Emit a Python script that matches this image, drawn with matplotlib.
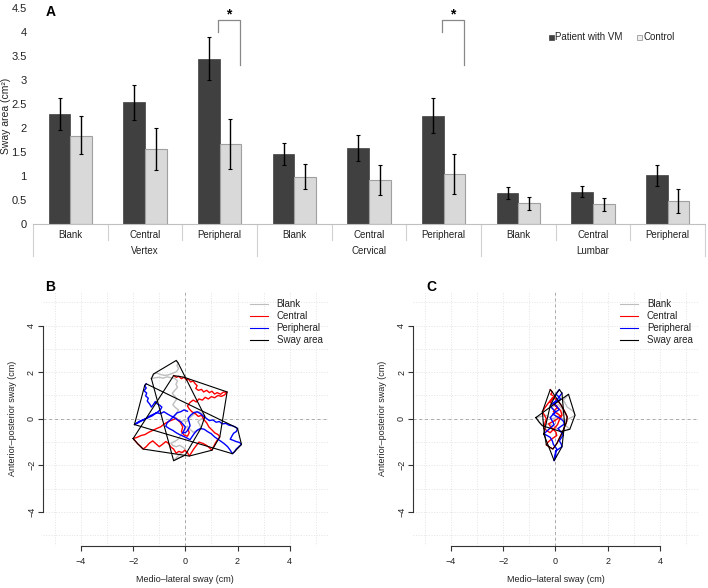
import numpy as np
import matplotlib
matplotlib.use('Agg')
import matplotlib.pyplot as plt
from matplotlib.patches import Rectangle

plt.rcParams['font.family'] = ['Liberation Sans', 'DejaVu Sans']

# ---------------------------------------------------------------
# Panel A: sway area by fixation condition
sub_labels = ['Blank', 'Central', 'Peripheral'] * 3
group_labels = ['Vertex', 'Cervical', 'Lumbar']
patient = [2.28, 2.54, 3.44, 1.46, 1.59, 2.25, 0.65, 0.67, 1.01]
patient_lo = [1.95, 2.17, 2.99, 1.23, 1.32, 1.89, 0.53, 0.56, 0.78]
patient_hi = [2.62, 2.90, 3.89, 1.68, 1.86, 2.62, 0.76, 0.79, 1.23]
control = [1.84, 1.57, 1.67, 0.98, 0.91, 1.04, 0.44, 0.42, 0.48]
control_lo = [1.46, 1.13, 1.15, 0.73, 0.60, 0.62, 0.29, 0.27, 0.22]
control_hi = [2.24, 1.99, 2.19, 1.24, 1.22, 1.46, 0.57, 0.55, 0.73]
yticks_a = [0, 0.5, 1, 1.5, 2, 2.5, 3, 3.5, 4, 4.5]
yticklabels_a = ['0', '0.5', '1', '1.5', '2', '2.5', '3', '3.5', '4', '4.5']
signif_idx = [2, 5]

# ---------------------------------------------------------------
# Panel B / C: centre of pressure traces (cm)
b_blank = [(-0.35, 2.5), (-0.28, 2.4), (-0.32, 2.28), (-0.26, 2.15), (-0.34, 2.02), (-0.5, 1.95),
           (-0.65, 1.88), (-0.8, 1.86), (-0.95, 1.9), (-1.1, 1.96), (-1.22, 1.92), (-1.3, 1.72),
           (-1.15, 1.76), (-1.0, 1.78), (-0.85, 1.74), (-0.7, 1.8), (-0.55, 1.76), (-0.4, 1.72),
           (-0.3, 1.62), (-0.36, 1.48), (-0.3, 1.35), (-0.4, 1.22), (-0.5, 1.1), (-0.42, 0.98),
           (-0.32, 0.86), (-0.4, 0.74), (-0.48, 0.6), (-0.38, 0.48), (-0.26, 0.38), (-0.34, 0.24),
           (-0.42, 0.1), (-0.34, -0.02), (-0.22, -0.14), (-0.08, -0.08), (0.06, -0.12), (0.15, 0.02),
           (0.28, 0.15), (0.4, 0.25), (0.52, 0.3), (0.64, 0.22), (0.75, 0.1), (0.62, 0.0),
           (0.48, -0.12), (0.55, -0.26), (0.6, -0.4), (0.45, -0.5), (0.3, -0.58), (0.18, -0.45),
           (0.08, -0.32), (-0.02, -0.45), (-0.1, -0.6), (-0.2, -0.75), (-0.3, -0.9), (-0.42, -0.98),
           (-0.55, -1.05), (-0.48, -1.15), (-0.35, -1.2), (-0.22, -1.14), (-0.1, -1.22), (0.0, -1.3),
           (-0.08, -1.42), (-0.2, -1.5), (-0.3, -1.62), (-0.45, -1.8), (-0.32, -1.72), (-0.2, -1.65),
           (-0.08, -1.6), (0.0, -1.55)]
b_central = [(-0.45, 1.85), (-0.35, 1.78), (-0.25, 1.82), (-0.15, 1.72), (-0.05, 1.78), (0.05, 1.66),
             (0.12, 1.7), (0.2, 1.58), (0.3, 1.62), (0.38, 1.5), (0.45, 1.42), (0.4, 1.3), (0.5, 1.22),
             (0.62, 1.26), (0.7, 1.15), (0.82, 1.22), (0.92, 1.12), (1.02, 1.18), (1.12, 1.06),
             (1.22, 1.12), (1.35, 1.05), (1.45, 1.14), (1.6, 1.15), (1.5, 1.02), (1.38, 0.96),
             (1.25, 1.0), (1.12, 0.9), (1.0, 0.95), (0.88, 0.85), (0.76, 0.92), (0.65, 0.8),
             (0.52, 0.85), (0.42, 0.72), (0.3, 0.8), (0.18, 0.7), (0.08, 0.55), (0.15, 0.42),
             (0.25, 0.3), (0.38, 0.22), (0.5, 0.1), (0.62, 0.15), (0.72, -0.05), (0.82, -0.18),
             (0.9, -0.35), (1.02, -0.48), (1.12, -0.6), (1.25, -0.68), (1.32, -0.78), (1.22, -0.92),
             (1.15, -1.05), (1.08, -1.2), (1.02, -1.35), (0.9, -1.22), (0.78, -1.12), (0.65, -1.05),
             (0.52, -1.0), (0.42, -1.15), (0.32, -1.3), (0.22, -1.48), (0.15, -1.6), (0.08, -1.45),
             (-0.02, -1.35), (-0.12, -1.45), (-0.25, -1.4), (-0.35, -1.48), (-0.45, -1.3),
             (-0.55, -1.22), (-0.65, -1.05), (-0.75, -0.98), (-0.88, -1.1), (-1.0, -1.2),
             (-1.12, -1.08), (-1.25, -0.95), (-1.38, -1.05), (-1.5, -1.2), (-1.62, -1.3),
             (-1.72, -1.18), (-1.82, -1.08), (-1.92, -0.95), (-2.0, -0.85), (-1.85, -0.8),
             (-1.7, -0.72), (-1.55, -0.68), (-1.4, -0.58), (-1.25, -0.5), (-1.1, -0.42),
             (-0.95, -0.35), (-0.8, -0.22), (-0.65, -0.12), (-0.5, -0.05), (-0.35, 0.02),
             (-0.2, -0.15), (-0.1, -0.35), (-0.15, -0.55), (-0.05, -0.7), (0.08, -0.75),
             (0.15, -0.6), (0.1, -0.45)]
b_peripheral = [(-1.5, 1.5), (-1.56, 1.42), (-1.5, 1.32), (-1.58, 1.2), (-1.48, 1.1), (-1.52, 0.98),
                (-1.42, 0.88), (-1.46, 0.76), (-1.36, 0.62), (-1.3, 0.5), (-1.22, 0.62), (-1.15, 0.74),
                (-1.08, 0.64), (-0.98, 0.58), (-0.9, 0.5), (-0.95, 0.4), (-1.05, 0.3), (-1.15, 0.22),
                (-1.28, 0.12), (-1.4, 0.06), (-1.52, 0.0), (-1.65, -0.06), (-1.78, -0.12),
                (-1.95, -0.25), (-1.82, -0.18), (-1.7, -0.1), (-1.55, -0.02), (-1.4, 0.1),
                (-1.25, 0.18), (-1.1, 0.26), (-0.95, 0.22), (-0.82, 0.3), (-0.68, 0.2), (-0.55, 0.12),
                (-0.42, 0.05), (-0.3, -0.05), (-0.18, -0.12), (-0.08, -0.25), (0.0, -0.35),
                (-0.05, -0.5), (-0.12, -0.62), (0.02, -0.58), (0.1, -0.48), (0.18, -0.3),
                (0.15, -0.15), (0.1, 0.02), (0.2, 0.15), (0.32, 0.26), (0.45, 0.3), (0.58, 0.22),
                (0.68, 0.12), (0.8, 0.02), (0.92, -0.08), (1.05, -0.05), (1.18, -0.15), (1.3, -0.12),
                (1.42, -0.22), (1.55, -0.2), (1.68, -0.28), (1.8, -0.3), (1.92, -0.36), (2.0, -0.42),
                (1.95, -0.55), (1.85, -0.62), (1.78, -0.75), (1.72, -0.88), (1.82, -0.92),
                (1.95, -0.98), (2.08, -1.02), (2.15, -1.1), (2.05, -1.2), (1.95, -1.3), (1.88, -1.42),
                (1.8, -1.5), (1.72, -1.35), (1.62, -1.2), (1.5, -1.08), (1.38, -0.98), (1.25, -0.88),
                (1.12, -0.78), (1.0, -0.65), (0.85, -0.55), (0.72, -0.45), (0.58, -0.42),
                (0.45, -0.5), (0.35, -0.62), (0.25, -0.78), (0.18, -0.9), (0.05, -0.82),
                (-0.08, -0.75), (-0.22, -0.68), (-0.35, -0.6), (-0.48, -0.5), (-0.62, -0.42),
                (-0.75, -0.32), (-0.7, -0.18), (-0.58, -0.05), (-0.45, 0.1), (-0.32, 0.25),
                (-0.18, 0.3), (-0.05, 0.38), (0.08, 0.32)]

c_blank = [(0.5, 1.05), (0.4, 0.92), (0.3, 0.8), (0.38, 0.65), (0.45, 0.5), (0.58, 0.4), (0.7, 0.3),
           (0.75, 0.15), (0.62, 0.06), (0.5, 0.0), (0.4, -0.1), (0.3, -0.2), (0.42, -0.32),
           (0.55, -0.45), (0.38, -0.5), (0.2, -0.55), (0.1, -0.45), (0.0, -0.35), (-0.12, -0.28),
           (-0.25, -0.2), (-0.38, -0.26), (-0.5, -0.3), (-0.62, -0.15), (-0.75, 0.05),
           (-0.55, 0.1), (-0.35, 0.15), (-0.22, 0.05), (-0.1, 0.0), (0.02, 0.06), (0.15, 0.1),
           (0.08, 0.22), (0.0, 0.35), (-0.1, 0.42), (-0.2, 0.5), (-0.05, 0.55), (0.1, 0.6),
           (0.22, 0.48), (0.3, 0.35), (0.25, 0.2), (0.2, 0.05), (0.32, -0.02), (0.45, -0.1)]
c_central = [(-0.2, 1.25), (-0.12, 1.15), (-0.18, 1.05), (-0.05, 0.95), (-0.12, 0.82), (-0.2, 0.7),
             (-0.05, 0.6), (0.08, 0.5), (0.0, 0.4), (-0.08, 0.3), (0.08, 0.22), (0.2, 0.12),
             (0.1, 0.02), (-0.02, -0.08), (-0.15, -0.15), (-0.26, -0.22), (-0.18, -0.35),
             (-0.08, -0.45), (0.02, -0.58), (0.05, -0.72), (-0.08, -0.82), (-0.2, -0.92),
             (-0.3, -1.02), (-0.35, -1.12), (-0.22, -1.22), (-0.1, -1.3), (-0.02, -1.18),
             (0.06, -1.05), (0.12, -0.9), (0.2, -0.72), (0.28, -0.55), (0.35, -0.35), (0.42, -0.15),
             (0.45, 0.08), (0.38, 0.25), (0.3, 0.42), (0.22, 0.58), (0.12, 0.72), (0.0, 0.85),
             (-0.12, 0.9), (-0.22, 0.75), (-0.32, 0.6), (-0.42, 0.45), (-0.5, 0.3), (-0.42, 0.15),
             (-0.35, 0.0), (-0.4, -0.18), (-0.45, -0.4), (-0.32, -0.52), (-0.2, -0.6),
             (-0.05, -0.42), (0.08, -0.25), (0.15, -0.05), (0.25, 0.15), (0.2, 0.35), (0.05, 0.5),
             (0.0, 0.6)]
c_peripheral = [(0.15, 1.25), (0.08, 1.15), (0.02, 1.05), (0.12, 0.95), (0.2, 0.85), (0.08, 0.75),
                (-0.05, 0.65), (0.05, 0.52), (0.15, 0.4), (0.02, 0.3), (-0.1, 0.2), (0.05, 0.1),
                (0.2, 0.0), (0.3, -0.1), (0.35, -0.22), (0.22, -0.32), (0.1, -0.42), (0.2, -0.55),
                (0.3, -0.7), (0.22, -0.82), (0.15, -0.95), (0.22, -1.08), (0.25, -1.2), (0.12, -1.3),
                (0.0, -1.4), (0.02, -1.6), (-0.05, -1.8), (-0.02, -1.55), (0.05, -1.3),
                (-0.08, -1.1), (-0.12, -0.95), (-0.2, -0.8), (-0.32, -0.72), (-0.45, -0.65),
                (-0.35, -0.55), (-0.25, -0.45), (-0.15, -0.35), (-0.05, -0.25), (-0.12, -0.1),
                (-0.2, 0.05), (-0.1, 0.18), (0.0, 0.3), (-0.1, 0.42), (-0.2, 0.55), (-0.08, 0.68),
                (0.05, 0.8), (0.15, 0.95), (0.25, 1.1)]

cond_names = ['Blank', 'Central', 'Peripheral']
cond_colors = ['#bebebe', '#ff0000', '#0000ff']


def convex_hull(pts):
    pts = sorted(set(pts))
    def cross(o, a, b):
        return (a[0]-o[0])*(b[1]-o[1]) - (a[1]-o[1])*(b[0]-o[0])
    lower = []
    for p in pts:
        while len(lower) >= 2 and cross(lower[-2], lower[-1], p) <= 0:
            lower.pop()
        lower.append(p)
    upper = []
    for p in reversed(pts):
        while len(upper) >= 2 and cross(upper[-2], upper[-1], p) <= 0:
            upper.pop()
        upper.append(p)
    hull = lower[:-1] + upper[:-1]
    return np.array(hull + [hull[0]])


fig = plt.figure(figsize=(7.08, 5.88), dpi=100)
W, H = 708., 588.

# ------------------------------- A
ax = fig.add_axes([33/W, 1-224/H, 672/W, 216.4/H])
x = np.arange(9)
bw = 0.29
p_err = [np.array(patient)-np.array(patient_lo), np.array(patient_hi)-np.array(patient)]
c_err = [np.array(control)-np.array(control_lo), np.array(control_hi)-np.array(control)]
ekw = dict(ecolor='black', elinewidth=1.0, capsize=1.2, capthick=0.8)
ax.bar(x-bw/2, patient, bw, color='#404040', edgecolor='#404040', lw=0.5,
       yerr=p_err, error_kw=ekw, zorder=2)
ax.bar(x+bw/2, control, bw, color='#d9d9d9', edgecolor='#a0a0a0', lw=0.8,
       yerr=c_err, error_kw=ekw, zorder=2)
ax.set_xlim(-0.5, 8.5)
ax.set_ylim(0, 4.5)
for s in ['top', 'right', 'left']:
    ax.spines[s].set_visible(False)
ax.spines['bottom'].set_color('#c0c0c0')
ax.set_xticks([])
ax.set_yticks(yticks_a)
ax.set_yticklabels(yticklabels_a)
ax.tick_params(axis='y', length=0, pad=4.5, labelsize=8, labelcolor='#222222')
trans = ax.get_xaxis_transform()
for i, lab in enumerate(sub_labels):
    ax.text(i, -11/216.4, lab, transform=trans, ha='center', va='center',
            fontsize=7, color='#222222')
for g, lab in enumerate(group_labels):
    ax.text(3*g+1, -27/216.4, lab, transform=trans, ha='center', va='center',
            fontsize=7, color='#222222')
for k in range(10):
    xs = k - 0.5
    low = -32/216.4 if k % 3 == 0 else -16/216.4
    ax.plot([xs, xs], [0, low], transform=trans, color='#d0d0d0', lw=0.8, clip_on=False)
for i in signif_idx:
    ax.plot([i-0.02, i-0.02, i+0.27, i+0.27], [4.0, 4.25, 4.25, 3.3],
            color='#888888', lw=0.9)
    ax.text(i+0.125, 4.36, '*', ha='center', va='center', fontsize=10, fontweight='bold')

fig.text(6/W, 1-116/H, 'Sway area (cm²)', rotation=90, ha='center', va='center',
         fontsize=7.5, color='#222222')
fig.text(46/W, 1-12/H, 'A', fontsize=10, fontweight='bold', ha='left', va='center')
fig.add_artist(Rectangle((549/W, 1-39.5/H), 4.5/W, 4.5/H, transform=fig.transFigure,
                         facecolor='#404040', edgecolor='#404040', lw=0.5))
fig.text(555/W, 1-37/H, 'Patient with VM', fontsize=7, ha='left', va='center', color='#222222')
fig.add_artist(Rectangle((637/W, 1-39.5/H), 4.5/W, 4.5/H, transform=fig.transFigure,
                         facecolor='#eeeeee', edgecolor='#888888', lw=0.5))
fig.text(643/W, 1-37/H, 'Control', fontsize=7, ha='left', va='center', color='#222222')


# ------------------------------- B, C
def sway_panel(left_px, traces, letter, letter_x):
    axs = fig.add_axes([left_px/W, 1-546/H, 284.5/W, 254.5/H])
    axs.set_xlim(-5.45, 5.45)
    axs.set_ylim(-5.46, 5.46)
    for v in range(-5, 6):
        axs.axvline(v, color='#e4e4e4', lw=0.7, ls=':', zorder=0)
        axs.axhline(v, color='#e4e4e4', lw=0.7, ls=':', zorder=0)
    axs.axvline(0, color='#aaaaaa', lw=0.7, ls=(0, (3, 3)), zorder=0)
    axs.axhline(0, color='#aaaaaa', lw=0.7, ls=(0, (3, 3)), zorder=0)
    for tr, col in zip(traces, cond_colors):
        tr = np.array(tr)
        axs.plot(tr[:, 0], tr[:, 1], color=col, lw=1.0, zorder=2)
    for tr in traces:
        hull = convex_hull([tuple(p) for p in tr])
        axs.plot(hull[:, 0], hull[:, 1], color='black', lw=0.8, zorder=3)
    for s in ['top', 'right']:
        axs.spines[s].set_visible(False)
    for s in ['left', 'bottom']:
        axs.spines[s].set_bounds(-4, 4)
        axs.spines[s].set_color('#333333')
        axs.spines[s].set_linewidth(0.8)
    axs.set_xticks([-4, -2, 0, 2, 4])
    axs.set_yticks([-4, -2, 0, 2, 4])
    axs.tick_params(direction='out', length=3.6, width=0.8, color='#333333',
                    labelsize=6.5, labelcolor='#222222')
    axs.tick_params(axis='x', pad=4)
    axs.tick_params(axis='y', pad=1.5)
    for t in axs.get_yticklabels():
        t.set_rotation(90)
        t.set_va('center')
    cx = left_px + 142.25
    fig.text(cx/W, 1-580/H, 'Medio\u2013lateral sway (cm)', fontsize=6.5,
             ha='center', va='center', color='#222222')
    fig.text((left_px-31)/W, 1-418.7/H, 'Anterior\u2013posterior sway (cm)', fontsize=6.5,
             rotation=90, ha='center', va='center', color='#222222')
    rows = [4.91, 4.41, 3.9, 3.4]
    names = cond_names + ['Sway area']
    cols = cond_colors + ['black']
    for r, n, c in zip(rows, names, cols):
        axs.plot([2.48, 3.17], [r, r], color=c, lw=0.8, clip_on=False)
        axs.text(3.5, r, n, fontsize=7, ha='left', va='center', color='#222222')
    fig.text(letter_x/W, 1-287/H, letter, fontsize=10, fontweight='bold', ha='left', va='center')
    return axs


sway_panel(43.1, [b_blank, b_central, b_peripheral], 'B', 45)
sway_panel(413.2, [c_blank, c_central, c_peripheral], 'C', 426)

fig.savefig('out.png', dpi=100)
